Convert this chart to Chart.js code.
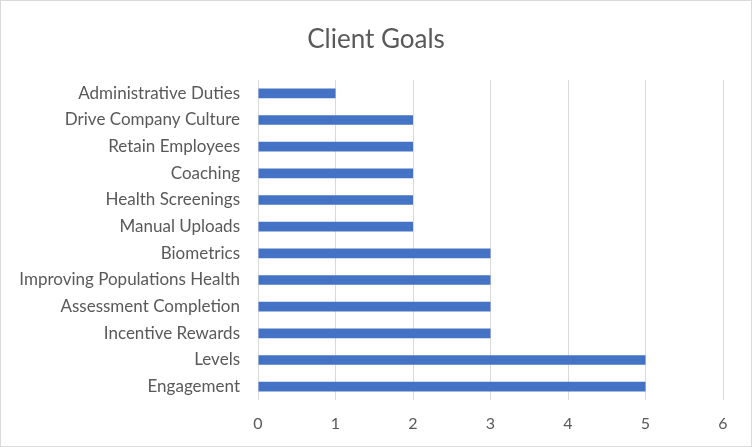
<!DOCTYPE html>
<html>
<head>
<meta charset="utf-8">
<script src="https://cdn.jsdelivr.net/npm/chart.js@4"></script>
<style>
  html, body { margin: 0; padding: 0; background: #fff; }
  #wrap { width: 752px; height: 447px; position: relative; }
</style>
</head>
<body>
<div id="wrap"><canvas id="goalsChart"></canvas></div>
<script>
// Chart data
const goals = [
    'Administrative Duties', 'Drive Company Culture', 'Retain Employees', 'Coaching',
    'Health Screenings', 'Manual Uploads', 'Biometrics', 'Improving Populations Health',
    'Assessment Completion', 'Incentive Rewards', 'Levels', 'Engagement'
];
const counts = [1, 2, 2, 2, 2, 2, 3, 3, 3, 3, 5, 5];
const xTicks = [0, 1, 2, 3, 4, 5, 6];
const chartTitle = 'Client Goals';

const textColor = '#595959';
const font = 'Lato, "Open Sans", sans-serif';

// Light gray frame and a title centred on the full width
const frame = {
    id: 'frame',
    afterDraw(chart) {
        const c = chart.ctx;
        c.save();
        c.strokeStyle = '#d9d9d9';
        c.lineWidth = 1;
        c.strokeRect(0.5, 0.5, chart.width - 1, chart.height - 1);
        c.fillStyle = textColor;
        c.font = '26px ' + font;
        c.textAlign = 'center';
        c.textBaseline = 'middle';
        c.fillText(chartTitle, chart.width / 2, 40);
        c.restore();
    }
};

const ctx = document.getElementById('goalsChart').getContext('2d');
new Chart(ctx, {
    type: 'bar',
    data: {
        labels: goals,
        datasets: [{
            label: chartTitle,
            data: counts,
            backgroundColor: '#4472C4',
            barPercentage: 0.36,
            categoryPercentage: 1
        }]
    },
    options: {
        indexAxis: 'y',
        responsive: true,
        maintainAspectRatio: false,
        animation: false,
        layout: { padding: { left: 0, right: 29, top: 80, bottom: 0 } },
        plugins: {
            legend: { display: false },
            tooltip: { enabled: false },
            title: { display: false }
        },
        scales: {
            x: {
                min: 0,
                max: 6,
                afterBuildTicks: scale => { scale.ticks = xTicks.map(v => ({ value: v })); },
                afterFit: scale => { scale.height = 47; },
                grid: { color: '#d9d9d9', lineWidth: 1, drawTicks: false },
                border: { display: false },
                ticks: { color: textColor, padding: 14, font: { family: font, size: 16 } }
            },
            y: {
                afterFit: scale => { scale.width = 258; },
                grid: { display: false, drawTicks: false },
                border: { display: false },
                ticks: { color: textColor, padding: 18, autoSkip: false, font: { family: font, size: 17 } }
            }
        }
    },
    plugins: [frame]
});
</script>
</body>
</html>
